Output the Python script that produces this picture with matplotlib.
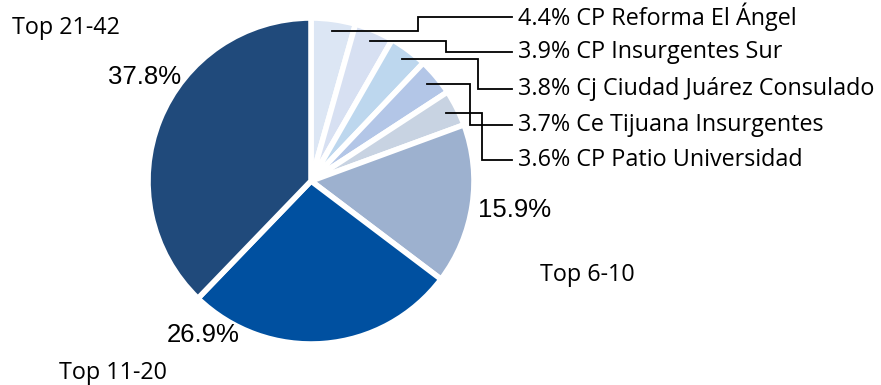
import numpy as np
import matplotlib.pyplot as plt

# shares by branch group, clockwise from 12 o'clock
valores = [4.4, 3.9, 3.8, 3.7, 3.6, 15.9, 26.9, 37.8]
nombres = ['CP Reforma El Ángel', 'CP Insurgentes Sur', 'Cj Ciudad Juárez Consulado',
           'Ce Tijuana Insurgentes', 'CP Patio Universidad', 'Top 6-10', 'Top 11-20', 'Top 21-42']
colores = ['#DCE6F4', '#D7E0F2', '#BDD7EE', '#B3C6E7', '#C8D3E2', '#9DB1CF', '#0050A0', '#204A7B']

W, H = 881, 385
fig = plt.figure(figsize=(W / 100, H / 100), dpi=100)
ax = fig.add_axes([0, 0, 1, 1])

cx, cy, R = 311, H - 181, 163
wedges, _ = ax.pie(valores, colors=colores, startangle=90, counterclock=False,
                   center=(cx, cy), radius=R, frame=True,
                   wedgeprops=dict(edgecolor='white', linewidth=4))
ax.set_xlim(0, W)
ax.set_ylim(0, H)
ax.axis('off')

fuente = 'Open Sans'
num_font = 'Liberation Sans'

# callouts for the five single branches
y_txt = [17, 52, 89, 125, 160]
x_codo = [418, 446, 478, 470, 482]
acum = np.cumsum([0] + valores)
for i in range(5):
    ang = np.deg2rad(90 - (acum[i] + valores[i] / 2) * 3.6)
    x0 = cx + 0.93 * R * np.cos(ang)
    y0 = cy + 0.93 * R * np.sin(ang)
    yt = H - y_txt[i]
    ax.plot([x0, x_codo[i], x_codo[i], 512], [y0, y0, yt, yt], color='black', lw=1.3,
            solid_joinstyle='miter')
    ax.text(518, yt, f'{valores[i]:.1f}% {nombres[i]}', fontsize=16.8, family=fuente,
            va='center', ha='left')

# big groups: percent and name
pos_pct = [(515, 210), (203, 335), (145, 77)]
pos_nom = [(587, 275), (113, 373), (66, 28)]
for k, i in enumerate([5, 6, 7]):
    ax.text(pos_pct[k][0], H - pos_pct[k][1], f'{valores[i]:.1f}%', fontsize=18.5,
            family=num_font, ha='center', va='center')
    ax.text(pos_nom[k][0], H - pos_nom[k][1], nombres[i], fontsize=16.8, family=fuente,
            ha='center', va='center')

fig.savefig('out.png', dpi=100)
